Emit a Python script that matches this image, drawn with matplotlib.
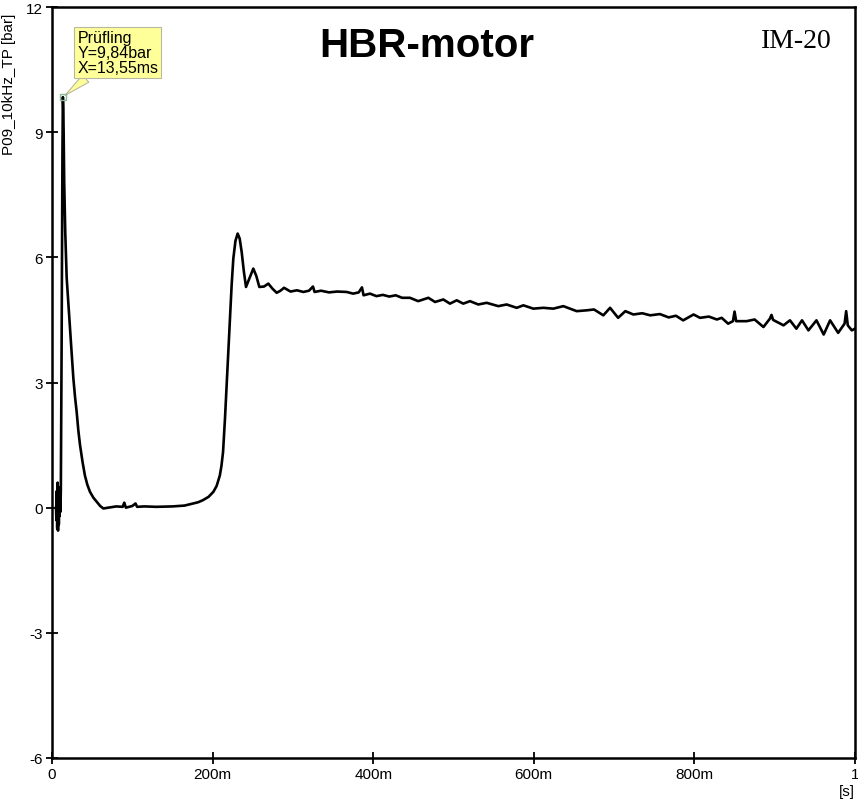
import matplotlib
matplotlib.use("Agg")
import matplotlib.pyplot as plt

plt.rcParams['font.family'] = ['Liberation Sans', 'DejaVu Sans']

# -----------------------------------------------------------------------------
# pressure trace (time in s, pressure in bar)

t_start = [0.0050, 0.0055, 0.0060, 0.0065, 0.0070, 0.0075, 0.0080, 0.0085,
           0.0090, 0.0095, 0.0100, 0.0105, 0.0110, 0.0120, 0.0130, 0.01355]
p_start = [0.00, -0.30, 0.40, -0.50, 0.60, -0.55, 0.50, -0.40,
           0.30, -0.20, 0.20, -0.10, 0.40, 4.00, 8.50, 9.84]

t_fall = [0.0140, 0.0145, 0.0152, 0.0165, 0.0183, 0.0205, 0.0224, 0.0245,
          0.0266, 0.0287, 0.0307, 0.0328, 0.0349, 0.0380, 0.0410, 0.0440,
          0.0473, 0.0515, 0.0557, 0.0600, 0.0640]
p_fall = [9.60, 9.00, 7.80, 6.60, 5.50, 4.85, 4.30, 3.70,
          3.10, 2.65, 2.30, 1.85, 1.50, 1.10, 0.77, 0.55,
          0.38, 0.24, 0.14, 0.04, -0.02]

t_base = [0.070, 0.080, 0.088, 0.090, 0.092, 0.100, 0.104, 0.106, 0.115,
          0.130, 0.150, 0.165, 0.176, 0.182, 0.188, 0.195, 0.201, 0.205,
          0.209, 0.211, 0.213, 0.2154, 0.2175, 0.2196, 0.2217, 0.2237,
          0.2258, 0.2285, 0.2312, 0.2337, 0.2362, 0.2390, 0.2416, 0.2460,
          0.2507, 0.2545, 0.2582]
p_base = [0.00, 0.03, 0.02, 0.12, 0.00, 0.04, 0.10, 0.02, 0.03,
          0.02, 0.03, 0.05, 0.10, 0.13, 0.18, 0.26, 0.38, 0.52,
          0.77, 1.00, 1.33, 2.13, 2.93, 3.73, 4.53, 5.33,
          5.97, 6.40, 6.57, 6.45, 6.13, 5.65, 5.29, 5.50,
          5.73, 5.55, 5.29]

t_decay = [0.2640, 0.2694, 0.2745, 0.2798, 0.2845, 0.289, 0.297, 0.305,
           0.313, 0.320, 0.325, 0.327, 0.335, 0.345, 0.355, 0.367, 0.375,
           0.382, 0.386, 0.388, 0.396, 0.404, 0.412, 0.420, 0.428, 0.436,
           0.4458, 0.456, 0.4687, 0.477, 0.4873, 0.4956, 0.504, 0.5122,
           0.5205, 0.5309, 0.5413, 0.5558, 0.5662, 0.5787, 0.587, 0.5994,
           0.6118, 0.6243, 0.6368, 0.6534, 0.6659, 0.675, 0.6866, 0.695,
           0.705, 0.714, 0.724, 0.735, 0.745, 0.757, 0.768, 0.777, 0.786,
           0.799, 0.807, 0.818, 0.828, 0.834, 0.842, 0.848, 0.850, 0.852,
           0.865, 0.875, 0.886, 0.894, 0.896, 0.898, 0.911, 0.919, 0.927,
           0.934, 0.942, 0.952, 0.961, 0.969, 0.979, 0.987, 0.989, 0.991,
           0.996, 1.000]
p_decay = [5.30, 5.37, 5.25, 5.15, 5.20, 5.27, 5.18, 5.21,
           5.17, 5.20, 5.30, 5.17, 5.20, 5.16, 5.18, 5.17, 5.13,
           5.16, 5.28, 5.09, 5.13, 5.07, 5.10, 5.06, 5.09, 5.03,
           5.03, 4.95, 5.03, 4.93, 4.99, 4.89, 4.97, 4.89,
           4.95, 4.87, 4.91, 4.83, 4.87, 4.79, 4.85, 4.77,
           4.79, 4.77, 4.83, 4.71, 4.73, 4.75, 4.61, 4.79,
           4.55, 4.71, 4.63, 4.66, 4.61, 4.64, 4.56, 4.60, 4.49,
           4.63, 4.55, 4.58, 4.51, 4.55, 4.41, 4.47, 4.70, 4.47,
           4.47, 4.51, 4.33, 4.53, 4.62, 4.50, 4.37, 4.49, 4.29,
           4.49, 4.25, 4.49, 4.15, 4.49, 4.19, 4.41, 4.71, 4.37,
           4.25, 4.29]

t_all = t_start + t_fall + t_base + t_decay
p_all = p_start + p_fall + p_base + p_decay

peak_t = 0.01355
peak_p = 9.84

x_ticks = [0, 0.2, 0.4, 0.6, 0.8, 1.0]
x_labels = ['0', '200m', '400m', '600m', '800m', '1']
y_ticks = [-6, -3, 0, 3, 6, 9, 12]
y_labels = ['-6', '-3', '0', '3', '6', '9', '12']

# -----------------------------------------------------------------------------

fig = plt.figure(figsize=(8.58, 8.03), dpi=100)
ax = fig.add_axes([52/858, 44/803, 803/858, 751/803])

ax.plot(t_all, p_all, color='black', lw=1.9)
ax.plot([peak_t], [peak_p], marker='s', ms=5, mfc='none', mec='#88b898',
        mew=1.0, zorder=5)

ax.set_xlim(0, 1)
ax.set_ylim(-6, 12)
ax.set_xticks(x_ticks)
ax.set_xticklabels(x_labels)
ax.set_yticks(y_ticks)
ax.set_yticklabels(y_labels)
ax.tick_params(direction='inout', length=9, width=1.3, labelsize=11,
               colors='black', pad=2)
for sp in ax.spines.values():
    sp.set_linewidth(1.8)

ax.set_ylabel('P09_10kHz_TP [bar]', fontsize=11)
ax.yaxis.set_label_coords(-0.045, 0.898)

# marker callout
ax.annotate('Prüfling\nY=9,84bar\nX=13,55ms', xy=(peak_t, peak_p),
            xytext=(0.0315, 11.45), ha='left', va='top', fontsize=11.5,
            linespacing=1.0,
            bbox=dict(boxstyle='square,pad=0.2', fc='#ffff99', ec='#b8b8a0',
                      lw=0.8),
            arrowprops=dict(arrowstyle='wedge,tail_width=0.6,shrink_factor=0.5',
                            fc='#ffff99', ec='#b8b8a0', lw=0.8,
                            shrinkA=0, shrinkB=2))

fig.text(427/858, 1 - 46/803, 'HBR-motor', ha='center', va='center',
         fontsize=29, fontweight='bold')
fig.text(796/858, 1 - 42/803, 'IM-20', ha='center', va='center',
         fontsize=20, family='Liberation Serif')
fig.text(847/858, 1 - 792/803, '[s]', ha='center', va='center', fontsize=11)

fig.savefig('out.png', dpi=100)
